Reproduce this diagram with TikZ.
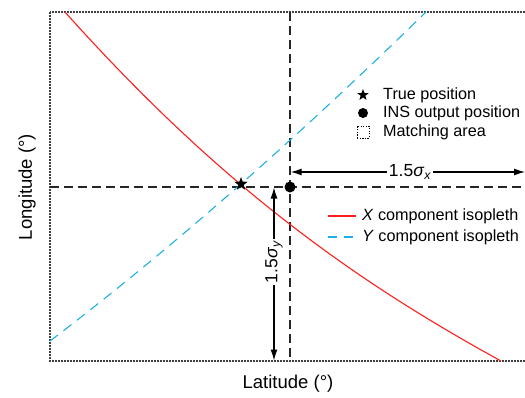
\documentclass[tikz,border=0pt]{standalone}
\usepackage{fontspec}
\setmainfont{Liberation Sans}
\usetikzlibrary{arrows.meta,shapes.geometric}
\definecolor{isored}{RGB}{255,30,30}
\definecolor{isoblue}{RGB}{30,175,230}
\tikzset{
  framedot/.style={line width=1.4pt, draw=black!75, dash pattern=on 1.6pt off 1.4pt},
  guideline/.style={line width=1.3pt, draw=black!85, dash pattern=on 9pt off 5pt},
  redcurve/.style={line width=1.1pt, draw=isored},
  bluecurve/.style={line width=1.1pt, draw=isoblue, dash pattern=on 10pt off 7pt},
  dimarrow/.style={line width=1.2pt, {Latex[length=11pt,width=7pt]}-{Latex[length=11pt,width=7pt]}},
  starmark/.style={star, star points=5, star point ratio=2.4, fill=black, inner sep=0pt, minimum size=#1},
  dotmark/.style={circle, fill=black, inner sep=0pt, minimum size=#1},
  legtext/.style={anchor=west, font=\fontsize{16.2}{19}\selectfont, inner sep=0pt},
  axtext/.style={font=\fontsize{18.5}{22}\selectfont, inner sep=0pt},
  dimlabel/.style={fill=white, inner sep=1.5pt, font=\fontsize{17.5}{20}\selectfont}
}
\begin{document}
\begin{tikzpicture}[x=1pt,y=-1pt]
\useasboundingbox (0,0) rectangle (525,397);
\clip (0,0) rectangle (525,397);
% frame
\coordinate (TL) at (50,12);
\coordinate (BR) at (540,361);
\draw[framedot] (TL) rectangle (BR);
% guide lines
\coordinate (vtop) at (290,12);
\coordinate (vbot) at (290,361);
\coordinate (hleft) at (50,187);
\coordinate (hright) at (525,187);
\draw[guideline] (vtop) -- (vbot);
\draw[guideline] (hleft) -- (hright);
% isopleths
\coordinate (r0) at (65,12);
\coordinate (r3) at (501,361);
\draw[redcurve] (r0) .. controls (225,191) and (361,284) .. (r3);
\coordinate (b0) at (50,341);
\coordinate (b3) at (426,12);
\draw[bluecurve] (b0) .. controls (175,246) and (301,134) .. (b3);
% markers
\node[starmark=14pt] (truepos) at (241,184) {};
\node[dotmark=11pt] (inspos) at (290,187) {};
% dimension arrows
\coordinate (sxl) at (290.7,172);
\coordinate (sxr) at (525,172);
\draw[dimarrow] (sxl) -- node[dimlabel, pos=0.51] (sxlab) {1.5\textit{σ}\textsubscript{\textit{x}}} (sxr);
\coordinate (syt) at (274,187.5);
\coordinate (syb) at (274,360.5);
\draw[dimarrow] (syt) -- node[dimlabel, rotate=90, pos=0.43] (sylab) {1.5\textit{σ}\textsubscript{\textit{y}}} (syb);
% legend
\node[starmark=12pt] (legstar) at (363,95) {};
\node[legtext] (legstartxt) at (383,95) {True position};
\node[dotmark=10pt] (legdot) at (363,113) {};
\node[legtext] (legdottxt) at (383,113) {INS output position};
\node[draw=black, line width=1pt, dash pattern=on 1.3pt off 1.3pt, minimum size=12pt, inner sep=0pt] (legbox) at (363,132) {};
\node[legtext] (legboxtxt) at (383,132) {Matching area};
\coordinate (lr0) at (328,216);
\coordinate (lr1) at (356,216);
\draw[redcurve] (lr0) -- (lr1);
\node[legtext] (legredtxt) at (362,216) {\textit{X} component isopleth};
\coordinate (lb0) at (328,237);
\coordinate (lb1) at (358,237);
\draw[bluecurve, dash pattern=on 9pt off 7pt] (lb0) -- (lb1);
\node[legtext] (legbluetxt) at (362,237) {\textit{Y} component isopleth};
% axis labels
\node[axtext] (xlab) at (288,384) {Latitude (°)};
\node[axtext, rotate=90] (ylab) at (27,187) {Longitude (°)};
\end{tikzpicture}
\end{document}
